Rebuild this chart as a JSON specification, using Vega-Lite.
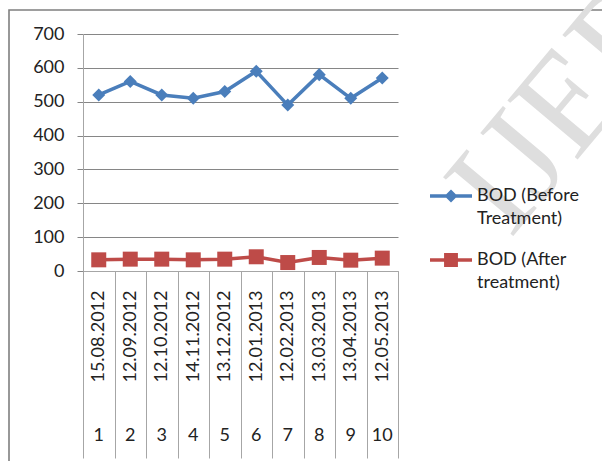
{
  "$schema": "https://vega.github.io/schema/vega-lite/v6.json",
  "autosize": {"type": "none"},
  "padding": {"left": 9, "top": 10, "right": 0, "bottom": 0},
  "width": 594,
  "height": 452,
  "config": {
    "view": {"stroke": "#7f7f7f", "strokeWidth": 1.6},
    "font": "Lato",
    "axis": {"labelFont": "Lato", "labelColor": "#222222", "labelFontSize": 18},
    "legend": {"labelFont": "Lato", "labelColor": "#222222", "labelFontSize": 18}
  },
  "datasets": {
    "bod": [
      {"n": 1, "date": "15.08.2012", "series": "BOD (Before Treatment)", "value": 520},
      {"n": 2, "date": "12.09.2012", "series": "BOD (Before Treatment)", "value": 560},
      {"n": 3, "date": "12.10.2012", "series": "BOD (Before Treatment)", "value": 520},
      {"n": 4, "date": "14.11.2012", "series": "BOD (Before Treatment)", "value": 510},
      {"n": 5, "date": "13.12.2012", "series": "BOD (Before Treatment)", "value": 530},
      {"n": 6, "date": "12.01.2013", "series": "BOD (Before Treatment)", "value": 590},
      {"n": 7, "date": "12.02.2013", "series": "BOD (Before Treatment)", "value": 490},
      {"n": 8, "date": "13.03.2013", "series": "BOD (Before Treatment)", "value": 580},
      {"n": 9, "date": "13.04.2013", "series": "BOD (Before Treatment)", "value": 510},
      {"n": 10, "date": "12.05.2013", "series": "BOD (Before Treatment)", "value": 570},
      {"n": 1, "date": "15.08.2012", "series": "BOD (After treatment)", "value": 33},
      {"n": 2, "date": "12.09.2012", "series": "BOD (After treatment)", "value": 35},
      {"n": 3, "date": "12.10.2012", "series": "BOD (After treatment)", "value": 35},
      {"n": 4, "date": "14.11.2012", "series": "BOD (After treatment)", "value": 33},
      {"n": 5, "date": "13.12.2012", "series": "BOD (After treatment)", "value": 35},
      {"n": 6, "date": "12.01.2013", "series": "BOD (After treatment)", "value": 42},
      {"n": 7, "date": "12.02.2013", "series": "BOD (After treatment)", "value": 25},
      {"n": 8, "date": "13.03.2013", "series": "BOD (After treatment)", "value": 40},
      {"n": 9, "date": "13.04.2013", "series": "BOD (After treatment)", "value": 32},
      {"n": 10, "date": "12.05.2013", "series": "BOD (After treatment)", "value": 38}
    ],
    "mark": [{"label": "IJERT"}]
  },
  "resolve": {"axis": {"x": "independent"}},
  "layer": [
    {
      "data": {"name": "mark"},
      "mark": {"type": "text", "font": "Liberation Serif", "fontSize": 140, "fill": "#dedede", "angle": -50, "align": "left", "baseline": "alphabetic"},
      "encoding": {
        "text": {"field": "label"},
        "x": {"value": 501},
        "y": {"value": 230}
      }
    },
    {
      "data": {"name": "bod"},
      "mark": {"type": "line", "strokeWidth": 3.5},
      "encoding": {
        "x": {
          "field": "date", "type": "ordinal",
          "sort": ["15.08.2012", "12.09.2012", "12.10.2012", "14.11.2012", "13.12.2012", "12.01.2013", "12.02.2013", "13.03.2013", "13.04.2013", "12.05.2013"],
          "scale": {"type": "band", "range": [74, 389], "paddingInner": 0, "paddingOuter": 0},
          "axis": {
            "title": null, "orient": "bottom", "offset": -191,
            "domainColor": "#a6a6a6", "tickColor": "#a6a6a6", "tickBand": "extent", "tickSize": 187,
            "labelAngle": -90, "labelPadding": -168, "grid": false
          }
        },
        "y": {
          "field": "value", "type": "quantitative",
          "scale": {"domain": [0, 700], "range": [261, 24], "nice": false},
          "axis": {
            "title": null, "orient": "left", "offset": -74, "values": [0, 100, 200, 300, 400, 500, 600, 700],
            "domainColor": "#a6a6a6", "tickColor": "#868686", "tickSize": 6, "labelPadding": 13,
            "gridColor": "#868686", "gridWidth": 1
          }
        },
        "color": {
          "field": "series", "type": "nominal",
          "scale": {"domain": ["BOD (Before Treatment)", "BOD (After treatment)"], "range": ["#4a7ebb", "#be4b48"]},
          "legend": {
            "title": null, "orient": "none", "legendX": 421, "legendY": 165, "padding": 0,
            "symbolSize": 1764, "labelOffset": 5, "rowPadding": 11,
            "labelExpr": "datum.label == 'BOD (Before Treatment)' ? ['BOD (Before', 'Treatment)'] : ['BOD (After', 'treatment)']",
            "encode": {
              "symbols": {
                "update": {
                  "shape": {"signal": "datum.value == 'BOD (Before Treatment)' ? 'M-1,-0.083H-0.227L0,-0.31L0.227,-0.083H1V0.083H0.227L0,0.31L-0.227,0.083H-1Z' : 'M-1,-0.083H-0.33V-0.33H0.33V-0.083H1V0.083H0.33V0.33H-0.33V0.083H-1Z'"},
                  "size": {"value": 1764},
                  "fill": {"signal": "scale('color', datum.value)"},
                  "stroke": {"value": "transparent"},
                  "strokeWidth": {"value": 0}
                }
              },
              "labels": {"update": {"lineHeight": {"value": 23}}}
            }
          }
        }
      }
    },
    {
      "data": {"name": "bod"},
      "transform": [{"filter": "datum.series == 'BOD (Before Treatment)'"}],
      "mark": {"type": "point", "shape": "diamond", "filled": true, "opacity": 1, "size": 170, "color": "#4a7ebb"},
      "encoding": {
        "x": {
          "field": "date", "type": "ordinal",
          "sort": ["15.08.2012", "12.09.2012", "12.10.2012", "14.11.2012", "13.12.2012", "12.01.2013", "12.02.2013", "13.03.2013", "13.04.2013", "12.05.2013"],
          "axis": {
            "title": null, "orient": "bottom", "offset": -191, "domain": false, "ticks": false, "grid": false,
            "labelAngle": 0, "labelPadding": 155,
            "labelExpr": "indexof(['15.08.2012', '12.09.2012', '12.10.2012', '14.11.2012', '13.12.2012', '12.01.2013', '12.02.2013', '13.03.2013', '13.04.2013', '12.05.2013'], datum.value) + 1"
          }
        },
        "y": {"field": "value", "type": "quantitative"}
      }
    },
    {
      "data": {"name": "bod"},
      "transform": [{"filter": "datum.series == 'BOD (After treatment)'"}],
      "mark": {"type": "point", "shape": "square", "filled": true, "opacity": 1, "size": 225, "color": "#be4b48"},
      "encoding": {
        "x": {
          "field": "date", "type": "ordinal",
          "sort": ["15.08.2012", "12.09.2012", "12.10.2012", "14.11.2012", "13.12.2012", "12.01.2013", "12.02.2013", "13.03.2013", "13.04.2013", "12.05.2013"],
          "axis": null
        },
        "y": {"field": "value", "type": "quantitative"}
      }
    }
  ]
}
